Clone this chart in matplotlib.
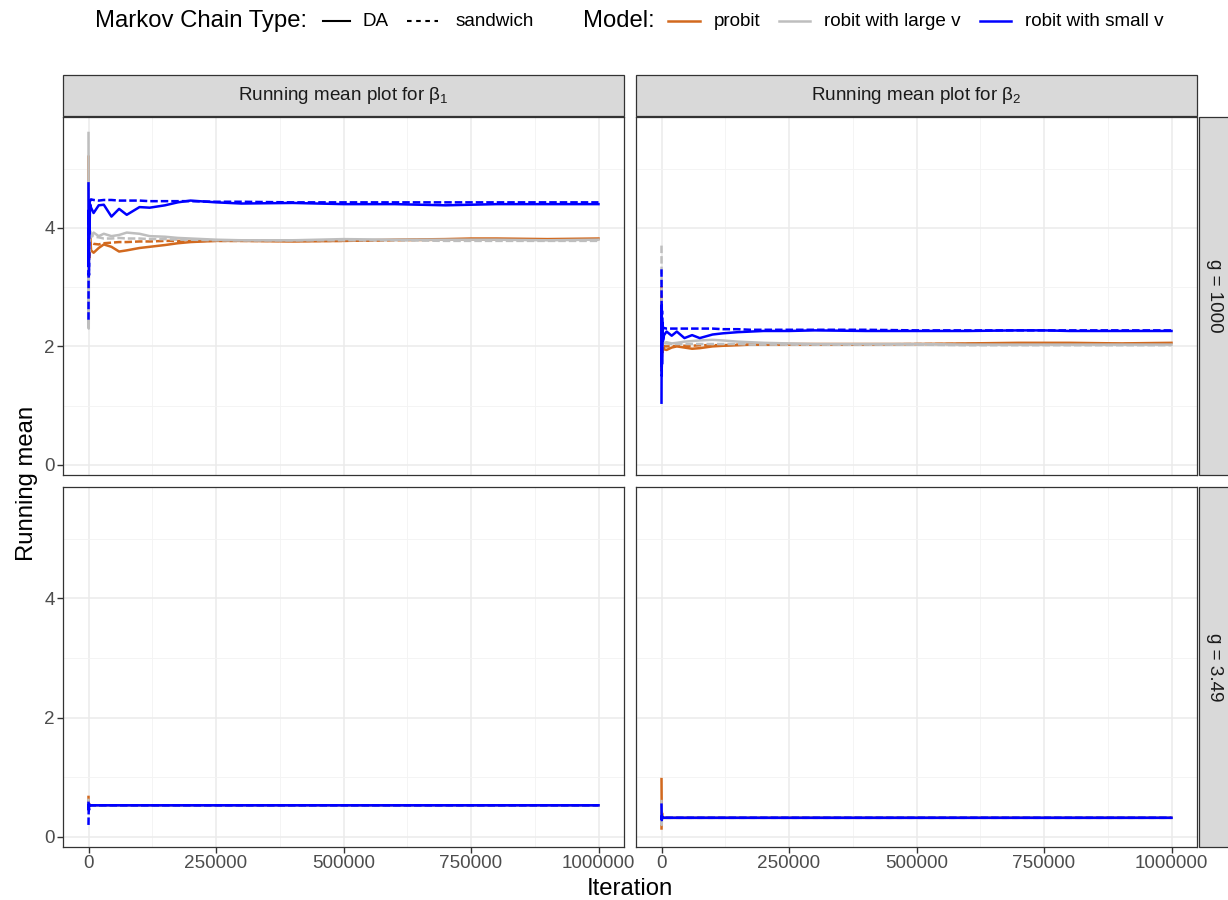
import matplotlib
matplotlib.use("Agg")
import matplotlib.pyplot as plt
from matplotlib.lines import Line2D
from matplotlib.patches import Rectangle
from matplotlib.ticker import MultipleLocator
import numpy as np

plt.rcParams['font.family'] = ['Liberation Sans', 'DejaVu Sans']
plt.rcParams['mathtext.fontset'] = 'custom'
plt.rcParams['mathtext.rm'] = 'Liberation Sans'
plt.rcParams['mathtext.it'] = 'Liberation Sans'

W, H = 1228, 900

# iteration grids (running mean sampled at these iterations)
iter_fine = [0, 500, 1000, 2000, 3000, 5000, 10000, 20000, 30000, 45000, 60000, 75000,
             100000, 120000, 150000, 175000, 200000, 250000, 300000, 400000, 500000,
             600000, 700000, 750000, 800000, 900000, 1000000]
iter_coarse = [0, 500, 1000, 2000, 3000, 5000, 20000, 100000, 250000, 500000, 750000, 1000000]

models = ["probit", "robit with large v", "robit with small v"]
chains = ["DA", "sandwich"]
model_colors = {"probit": "#D2691E", "robit with large v": "#BEBEBE", "robit with small v": "#0000FF"}

# beta1, g = 1000
b1_g1000_probit_da = [5.2, 3.4, 4.3, 3.5, 3.9, 3.62, 3.58, 3.66, 3.72, 3.68, 3.60, 3.62, 3.66, 3.68,
                      3.71, 3.74, 3.76, 3.78, 3.78, 3.77, 3.78, 3.80, 3.81, 3.82, 3.82, 3.81, 3.82]
b1_g1000_probit_sw = [4.6, 3.9, 3.5, 3.8, 3.7, 3.75, 3.73, 3.72, 3.74, 3.75, 3.76, 3.76, 3.77, 3.77,
                      3.78, 3.78, 3.78, 3.78, 3.78, 3.78, 3.78, 3.79, 3.80, 3.80, 3.80, 3.80, 3.80]
b1_g1000_large_da = [5.6, 2.3, 4.2, 3.6, 3.95, 3.85, 3.92, 3.86, 3.90, 3.86, 3.88, 3.92, 3.90, 3.86,
                     3.85, 3.83, 3.82, 3.80, 3.79, 3.79, 3.81, 3.80, 3.80, 3.80, 3.80, 3.79, 3.80]
b1_g1000_large_sw = [4.8, 3.0, 4.5, 3.7, 3.9, 3.88, 3.85, 3.84, 3.82, 3.82, 3.83, 3.82, 3.82, 3.81,
                     3.81, 3.80, 3.80, 3.79, 3.79, 3.79, 3.79, 3.79, 3.78, 3.78, 3.78, 3.78, 3.78]
b1_g1000_small_da = [4.75, 3.4, 4.3, 3.9, 4.4, 4.34, 4.25, 4.38, 4.39, 4.19, 4.32, 4.22, 4.35, 4.34,
                     4.38, 4.43, 4.46, 4.43, 4.41, 4.42, 4.40, 4.40, 4.38, 4.39, 4.40, 4.40, 4.40]
b1_g1000_small_sw = [2.45, 4.2, 3.2, 4.5, 4.45, 4.48, 4.47, 4.46, 4.47, 4.47, 4.46, 4.46, 4.46, 4.45,
                     4.45, 4.45, 4.45, 4.44, 4.44, 4.43, 4.43, 4.43, 4.43, 4.43, 4.43, 4.43, 4.43]

# beta2, g = 1000
b2_g1000_probit_da = [3.0, 1.6, 2.3, 1.9, 2.0, 1.95, 1.94, 1.98, 2.00, 1.98, 1.96, 1.97, 2.00, 2.01,
                      2.02, 2.03, 2.03, 2.04, 2.04, 2.04, 2.04, 2.05, 2.06, 2.06, 2.06, 2.05, 2.06]
b2_g1000_probit_sw = [2.6, 1.8, 2.2, 2.0, 2.02, 2.00, 2.00, 2.00, 2.01, 2.01, 2.01, 2.02, 2.02, 2.02,
                      2.03, 2.03, 2.03, 2.03, 2.03, 2.03, 2.04, 2.04, 2.04, 2.04, 2.04, 2.04, 2.04]
b2_g1000_large_da = [2.4, 1.9, 2.2, 2.05, 2.08, 2.06, 2.07, 2.05, 2.06, 2.08, 2.09, 2.10, 2.11, 2.10,
                     2.08, 2.07, 2.06, 2.05, 2.04, 2.04, 2.04, 2.03, 2.03, 2.03, 2.03, 2.03, 2.03]
b2_g1000_large_sw = [3.7, 1.7, 2.4, 2.0, 2.06, 2.05, 2.05, 2.04, 2.04, 2.04, 2.04, 2.04, 2.04, 2.04,
                     2.04, 2.03, 2.03, 2.03, 2.03, 2.03, 2.03, 2.02, 2.02, 2.02, 2.02, 2.02, 2.02]
b2_g1000_small_da = [1.05, 2.7, 1.7, 2.4, 2.1, 2.19, 2.25, 2.18, 2.25, 2.14, 2.19, 2.14, 2.20, 2.22,
                     2.24, 2.25, 2.26, 2.26, 2.27, 2.26, 2.26, 2.26, 2.27, 2.27, 2.26, 2.26, 2.26]
b2_g1000_small_sw = [3.3, 1.5, 2.6, 2.2, 2.32, 2.31, 2.30, 2.30, 2.30, 2.30, 2.30, 2.30, 2.30, 2.29,
                     2.29, 2.28, 2.28, 2.28, 2.28, 2.28, 2.27, 2.27, 2.27, 2.27, 2.27, 2.27, 2.27]

# beta1, g = 3.49
b1_g349_probit_da = [0.67, 0.45, 0.56, 0.52, 0.53, 0.53, 0.53, 0.53, 0.53, 0.53, 0.53, 0.53]
b1_g349_probit_sw = [0.60, 0.50, 0.54, 0.53, 0.53, 0.53, 0.53, 0.53, 0.53, 0.53, 0.53, 0.53]
b1_g349_large_da = [0.62, 0.48, 0.55, 0.52, 0.53, 0.53, 0.53, 0.53, 0.53, 0.53, 0.53, 0.53]
b1_g349_large_sw = [0.58, 0.50, 0.54, 0.53, 0.53, 0.53, 0.53, 0.53, 0.53, 0.53, 0.53, 0.53]
b1_g349_small_da = [0.57, 0.48, 0.55, 0.52, 0.53, 0.53, 0.53, 0.53, 0.53, 0.53, 0.53, 0.53]
b1_g349_small_sw = [0.20, 0.55, 0.45, 0.54, 0.53, 0.53, 0.53, 0.53, 0.53, 0.53, 0.53, 0.53]

# beta2, g = 3.49
b2_g349_probit_da = [0.97, 0.30, 0.40, 0.31, 0.33, 0.32, 0.32, 0.32, 0.32, 0.32, 0.32, 0.32]
b2_g349_probit_sw = [0.12, 0.45, 0.30, 0.33, 0.32, 0.32, 0.32, 0.32, 0.32, 0.32, 0.32, 0.32]
b2_g349_large_da = [0.60, 0.20, 0.36, 0.31, 0.32, 0.32, 0.32, 0.32, 0.32, 0.32, 0.32, 0.32]
b2_g349_large_sw = [0.25, 0.40, 0.31, 0.33, 0.32, 0.32, 0.32, 0.32, 0.32, 0.32, 0.32, 0.32]
b2_g349_small_da = [0.54, 0.28, 0.35, 0.32, 0.32, 0.32, 0.32, 0.32, 0.32, 0.32, 0.32, 0.32]
b2_g349_small_sw = [0.30, 0.36, 0.31, 0.32, 0.32, 0.32, 0.32, 0.32, 0.32, 0.32, 0.32, 0.32]

col_titles = ["Running mean plot for β$_1$", "Running mean plot for β$_2$"]
row_titles = ["g = 1000", "g = 3.49"]

panels = {
  (0, 0): (iter_fine, [b1_g1000_probit_da, b1_g1000_probit_sw, b1_g1000_large_da,
                       b1_g1000_large_sw, b1_g1000_small_da, b1_g1000_small_sw]),
  (0, 1): (iter_fine, [b2_g1000_probit_da, b2_g1000_probit_sw, b2_g1000_large_da,
                       b2_g1000_large_sw, b2_g1000_small_da, b2_g1000_small_sw]),
  (1, 0): (iter_coarse, [b1_g349_probit_da, b1_g349_probit_sw, b1_g349_large_da,
                         b1_g349_large_sw, b1_g349_small_da, b1_g349_small_sw]),
  (1, 1): (iter_coarse, [b2_g349_probit_da, b2_g349_probit_sw, b2_g349_large_da,
                         b2_g349_large_sw, b2_g349_small_da, b2_g349_small_sw]),
}

SMALL = 13.6
BIG = 17.2

def fx(px):
  return px / W

def fy(py):
  return 1 - py / H

fig = plt.figure(figsize=(W / 100, H / 100), dpi=100)

col_x = [(63, 624), (636, 1197)]
row_y = [(117, 475), (487, 847)]
grey20 = "#333333"
tick_col = "#4D4D4D"

for (r, c), (xs, series) in panels.items():
  x0, x1 = col_x[c]
  y0, y1 = row_y[r]
  ax = fig.add_axes([fx(x0), fy(y1), fx(x1) - fx(x0), fy(y0) - fy(y1)])
  ax.set_xlim(-50000, 1050000)
  ax.set_ylim(-0.17, 5.87)
  ax.xaxis.set_major_locator(MultipleLocator(250000))
  ax.xaxis.set_minor_locator(MultipleLocator(125000))
  ax.yaxis.set_major_locator(MultipleLocator(2))
  ax.yaxis.set_minor_locator(MultipleLocator(1))
  ax.grid(which="major", color="#EBEBEB", linewidth=1.1, zorder=0)
  ax.grid(which="minor", color="#F3F3F3", linewidth=0.6, zorder=0)
  ax.set_axisbelow(True)
  for sp in ax.spines.values():
    sp.set_color(grey20)
    sp.set_linewidth(0.9)
  ax.tick_params(which="major", length=4, width=1.0, color=grey20, labelcolor=tick_col, labelsize=SMALL, pad=2)
  ax.tick_params(which="minor", length=0)
  if r == 0:
    ax.tick_params(axis="x", which="both", length=0, labelbottom=False)
  else:
    ax.set_xticks([0, 250000, 500000, 750000, 1000000])
    ax.set_xticklabels(["0", "250000", "500000", "750000", "1000000"])
  if c == 1:
    ax.tick_params(axis="y", which="both", length=0, labelleft=False)
  i = 0
  for m in models:
    for ch in chains:
      ys = series[i]
      i += 1
      if ch == "DA":
        ax.plot(xs, ys, color=model_colors[m], linewidth=1.8, zorder=2)
      else:
        ax.plot(xs, ys, color=model_colors[m], linewidth=1.8, linestyle=(0, (3, 1.2)), zorder=2)

# strips
for c, t in enumerate(col_titles):
  x0, x1 = col_x[c]
  fig.patches.append(Rectangle((fx(x0), fy(116)), fx(x1) - fx(x0), fy(75) - fy(116),
                               transform=fig.transFigure, facecolor="#D9D9D9", edgecolor=grey20, linewidth=0.9))
  fig.text(fx((x0 + x1) / 2), fy(96), t, ha="center", va="center", fontsize=SMALL, color="#1A1A1A")
for r, t in enumerate(row_titles):
  y0, y1 = row_y[r]
  fig.patches.append(Rectangle((fx(1199), fy(y1)), fx(1245) - fx(1199), fy(y0) - fy(y1),
                               transform=fig.transFigure, facecolor="#D9D9D9", edgecolor=grey20, linewidth=0.9))
  fig.text(fx(1214), fy((y0 + y1) / 2), t, ha="center", va="center", rotation=-90, fontsize=SMALL, color="#1A1A1A")

# axis titles
fig.text(fx(630), fy(889), "Iteration", ha="center", va="center", fontsize=BIG)
fig.text(fx(27), fy(483), "Running mean", ha="center", va="center", rotation=90, fontsize=BIG)

# legend
ly = fy(21)
fig.text(fx(95), ly, "Markov Chain Type:", ha="left", va="center", fontsize=BIG)
fig.lines.append(Line2D([fx(323), fx(350)], [ly, ly], transform=fig.transFigure, color="black", linewidth=1.5))
fig.text(fx(362), ly, "DA", ha="left", va="center", fontsize=SMALL)
fig.lines.append(Line2D([fx(407), fx(438)], [ly, ly], transform=fig.transFigure, color="black",
                        linewidth=1.5, linestyle=(0, (2.2, 2.2))))
fig.text(fx(456), ly, "sandwich", ha="left", va="center", fontsize=SMALL)
fig.text(fx(583), ly, "Model:", ha="left", va="center", fontsize=BIG)
key_x = [(668, 700), (779, 810), (980, 1011)]
lab_x = [714, 824, 1025]
for m, (a, b), lx in zip(models, key_x, lab_x):
  fig.lines.append(Line2D([fx(a), fx(b)], [ly, ly], transform=fig.transFigure, color=model_colors[m], linewidth=1.8))
  fig.text(fx(lx), ly, m, ha="left", va="center", fontsize=SMALL)

plt.savefig("out.png", dpi=100)
plt.close()
